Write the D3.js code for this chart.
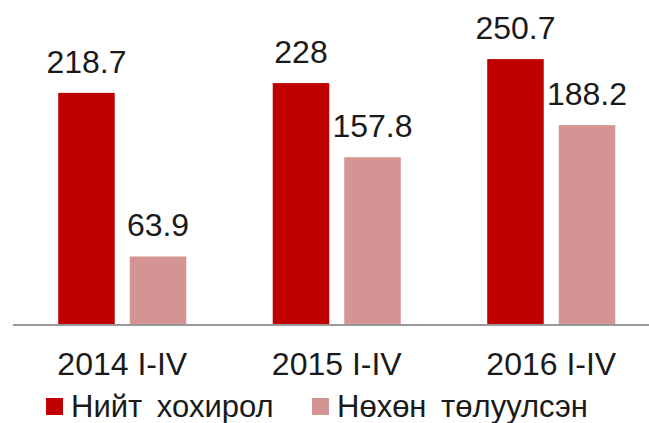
<!DOCTYPE html>
<html>
<head>
<meta charset="utf-8">
<script src="https://cdn.jsdelivr.net/npm/d3@7"></script>
<style>
  body { margin: 0; background: #fff; }
  svg text { font-family: "Liberation Sans", Arial, sans-serif; fill: #1a1a1a; }
</style>
</head>
<body>
<div id="chart"></div>
<script>
// data
var periods = ['2014 I-IV', '2015 I-IV', '2016 I-IV'];
var series = ['Нийт хохирол', 'Нөхөн төлуулсэн'];
var total = [218.7, 228, 250.7];
var repaid = [63.9, 157.8, 188.2];
var colors = ['#c00000', '#d49494'];

var W = 649, H = 423;
var base = 324;

var svg = d3.select('#chart').append('svg')
    .attr('width', W)
    .attr('height', H);

var x0 = d3.scaleBand().domain(periods).range([15, 658.5])
    .paddingInner(0.403).paddingOuter(0.2015);
var x1 = d3.scaleBand().domain(series).range([0, x0.bandwidth()])
    .paddingInner(0.21);
var y = d3.scaleLinear().domain([0, 300]).range([base, 7]);

var rows = periods.map(function(p, i){
    return {period: p, vals: [
        {s: series[0], v: total[i]},
        {s: series[1], v: repaid[i]}
    ]};
});

var g = svg.selectAll('g.grp')
    .data(rows)
    .enter()
    .append('g')
    .classed('grp', true)
    .attr('transform', function(d){ return 'translate(' + x0(d.period) + ',0)'; });

g.selectAll('rect')
    .data(function(d){ return d.vals; })
    .enter()
    .append('rect')
    .attr('x', function(d){ return x1(d.s); })
    .attr('y', function(d){ return y(d.v); })
    .attr('width', x1.bandwidth())
    .attr('height', function(d){ return base - y(d.v); })
    .attr('fill', function(d, i){ return colors[i]; });

g.selectAll('text.val')
    .data(function(d){ return d.vals; })
    .enter()
    .append('text')
    .classed('val', true)
    .attr('x', function(d){ return x1(d.s) + x1.bandwidth()/2; })
    .attr('y', function(d){ return y(d.v) - 20; })
    .attr('text-anchor', 'middle')
    .style('font-size', '32px')
    .text(function(d){ return d.v; });

// axis line
svg.append('line')
    .attr('x1', 13).attr('x2', W)
    .attr('y1', base + 1).attr('y2', base + 1)
    .attr('stroke', '#979797')
    .attr('stroke-width', 2);

// category labels
var xAxis = d3.axisBottom(x0).tickSize(0).tickPadding(0);
var ax = svg.append('g')
    .attr('transform', 'translate(0,' + base + ')')
    .call(xAxis);
ax.select('.domain').remove();
ax.selectAll('text')
    .attr('dy', null)
    .attr('y', 51)
    .style('font-size', '32px')
    .style('font-family', '"Liberation Sans", Arial, sans-serif')
    .attr('fill', '#1a1a1a');

// legend
var legX = [46, 312];
var leg = svg.selectAll('g.leg')
    .data(series)
    .enter()
    .append('g')
    .classed('leg', true)
    .attr('transform', function(d, i){ return 'translate(' + legX[i] + ',398)'; });
leg.append('rect')
    .attr('width', 17).attr('height', 17)
    .attr('fill', function(d, i){ return colors[i]; });
leg.append('text')
    .attr('x', 25)
    .attr('y', 19)
    .style('font-size', '31px')
    .style('word-spacing', '6px')
    .text(function(d){ return d; });
</script>
</body>
</html>
